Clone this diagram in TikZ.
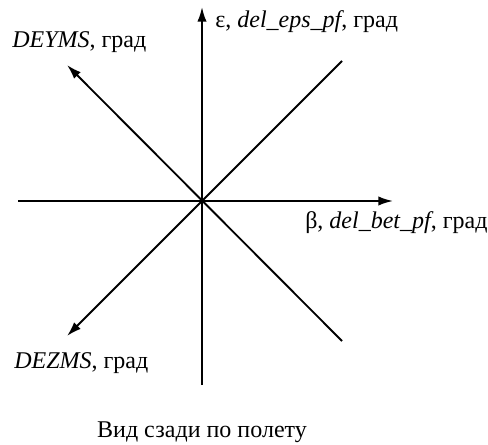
\documentclass[tikz,border=0pt]{standalone}
\usepackage{fontspec}
\setmainfont{Liberation Serif}
\usetikzlibrary{arrows.meta}
\begin{document}
\begin{tikzpicture}[x=0.75pt,y=-0.75pt,
    axis/.style={line width=1.4pt,-{Latex[length=11pt,width=7pt]}},
    lbl/.style={inner sep=0pt,anchor=base west,font=\fontsize{18}{21}\selectfont}]
    \useasboundingbox (0,0) rectangle (488,445);
    % axes
    \coordinate (O) at (202,201);
    \coordinate (xl) at (18,201);
    \coordinate (xr) at (393,201);
    \coordinate (yb) at (202,385);
    \coordinate (yt) at (202,7);
    \coordinate (ul) at (67,65);
    \coordinate (lr) at (342,341);
    \coordinate (ll) at (67,336);
    \coordinate (ur) at (342,61);
    \draw[axis] (xl) -- (xr);
    \draw[axis] (yb) -- (yt);
    \draw[axis] (lr) -- (ul);
    \draw[axis] (ur) -- (ll);
    % labels
    \node[lbl] (eps) at (215,28) {ε, \textit{del\_eps\_pf}, град};
    \node[lbl] (bet) at (305,228) {β, \textit{del\_bet\_pf}, град};
    \node[lbl] (dey) at (12,48) {\textit{DEYMS}, град};
    \node[lbl] (dez) at (14,368) {\textit{DEZMS}, град};
    \node[lbl,anchor=base] (cap) at (202,437) {Вид сзади по полету};
\end{tikzpicture}
\end{document}
